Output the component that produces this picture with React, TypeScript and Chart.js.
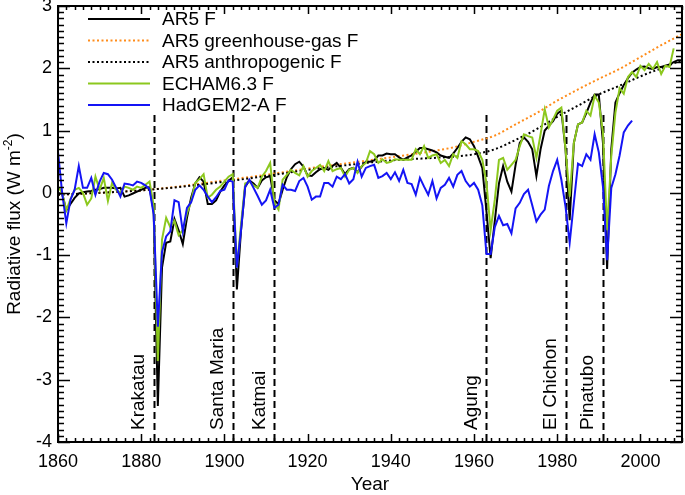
import React, { useEffect, useRef } from 'react';
import { Chart, registerables } from 'chart.js';
Chart.register(...registerables);

const START_YEAR = 1860;

// AR5 F, annual 1860-2010
const ar5F = [
  0.0, -0.02, -0.28, -0.18, -0.08, -0.01, 0.01, 0.02, 0.03, 0.05,
  0.06, 0.08, 0.08, 0.08, 0.07, 0.08, -0.06, -0.04, -0.01, 0.02,
  0.05, 0.08, 0.09, -0.3, -3.42, -1.2, -0.8, -0.78, -0.42, -0.6,
  -0.82, -0.4, -0.08, 0.15, 0.25, 0.18, -0.18, -0.18, -0.12, 0.02,
  0.12, 0.19, 0.25, -1.55, -0.6, 0.1, 0.2, 0.15, 0.08, 0.2,
  0.25, 0.27, -0.12, -0.18, 0.05, 0.25, 0.38, 0.46, 0.5, 0.42,
  0.28, 0.27, 0.33, 0.38, 0.4, 0.37, 0.43, 0.48, 0.4, 0.3,
  0.38, 0.4, 0.33, 0.42, 0.5, 0.5, 0.52, 0.6, 0.6, 0.63,
  0.62, 0.62, 0.57, 0.53, 0.57, 0.6, 0.66, 0.72, 0.72, 0.7,
  0.68, 0.65, 0.6, 0.58, 0.56, 0.63, 0.72, 0.82, 0.89, 0.86,
  0.75, 0.58, 0.4, -0.3, -1.05, -0.45, 0.15, 0.43, 0.18, 0.02,
  0.45, 0.8, 0.89, 0.82, 0.7, 0.27, 0.7, 1.0, 1.08, 1.15,
  1.27, 1.32, 0.7, -0.44, 0.8, 1.1, 1.13, 1.28, 1.45, 1.58,
  1.58, 0.8, -1.22, 0.7, 1.45, 1.6, 1.73, 1.84, 1.93, 1.98,
  2.02, 2.03, 2.0, 1.99, 2.02, 2.02, 2.04, 2.06, 2.1, 2.13, 2.13,
];

// ECHAM6.3 F, annual 1860-2008
const echamF = [
  0.1, 0.0, -0.28, -0.1, 0.05, 0.08, 0.0, -0.19, -0.09, 0.26,
  0.05, 0.24, -0.13, 0.16, 0.05, 0.0, 0.1, 0.08, 0.05, 0.1,
  0.08, 0.13, 0.18, -0.2, -2.7, -0.75, -0.4, -0.55, -0.45, -0.68,
  -0.6, -0.33, -0.14, 0.16, 0.22, 0.3, -0.08, -0.03, 0.05, 0.1,
  0.18, 0.26, 0.3, -1.2, -0.5, 0.15, 0.18, 0.12, 0.08, 0.26,
  0.35, 0.48, -0.16, -0.27, 0.21, 0.29, 0.37, 0.32, 0.28, 0.43,
  0.26, 0.35, 0.4, 0.45, 0.35, 0.51, 0.35, 0.38, 0.4, 0.26,
  0.37, 0.4, 0.32, 0.43, 0.48, 0.67, 0.62, 0.48, 0.54, 0.48,
  0.5, 0.54, 0.53, 0.53, 0.53, 0.53, 0.7, 0.62, 0.75, 0.56,
  0.6, 0.62, 0.48, 0.53, 0.43, 0.62, 0.56, 0.83, 0.78, 0.7,
  0.7, 0.67, 0.53, 0.16, -0.6, -0.11, 0.53, 0.56, 0.37, 0.45,
  0.53, 0.75, 0.94, 0.91, 0.89, 0.56, 0.94, 1.34, 1.05, 1.18,
  1.32, 1.37, 0.7, -0.06, 0.8, 1.1, 1.13, 1.32, 1.24, 1.56,
  1.45, 0.97, -0.6, 0.59, 1.29, 1.68, 1.59, 1.86, 1.94, 1.86,
  2.04, 1.97, 2.07, 1.99, 2.1, 1.91, 2.04, 2.02, 2.32,
];

// HadGEM2-A F, annual 1860-1998
const hadgemF = [
  0.66, 0.0, -0.49, -0.11, 0.05, 0.43, 0.08, 0.08, 0.24, -0.03,
  0.18, 0.32, 0.3, 0.21, 0.08, -0.06, 0.15, 0.14, 0.12, 0.18,
  0.16, 0.12, 0.06, -0.35, -2.15, -0.95, -0.7, -0.62, -0.12, -0.15,
  -0.62, -0.24, -0.15, 0.05, 0.12, 0.05, -0.06, -0.15, -0.07, 0.03,
  0.05, 0.2, 0.18, -1.2, -0.6, 0.1, 0.21, 0.08, -0.05, -0.19,
  -0.12, 0.05, -0.24, -0.19, 0.13, 0.05, 0.05, 0.03, 0.19, 0.24,
  0.1, -0.11, -0.06, -0.06, 0.16, 0.16, 0.1, 0.26, 0.22, 0.3,
  0.15, 0.22, 0.5, 0.26, 0.4, 0.43, 0.45, 0.24, 0.27, 0.32,
  0.22, 0.33, 0.19, 0.37, 0.16, 0.14, -0.03, 0.24, 0.1, -0.03,
  0.19, -0.09, 0.08, 0.13, 0.24, 0.1, 0.29, 0.35, 0.19, 0.1,
  0.16, 0.05, -0.2, -0.98, -0.98, -0.55, -0.37, -0.52, -0.5, -0.65,
  -0.25, -0.16, -0.02, 0.05, -0.2, -0.46, -0.35, -0.27, 0.11, 0.35,
  0.53, 0.21, -0.22, -0.8, -0.16, 0.47, 0.43, 0.62, 0.53, 0.94,
  0.65, 0.1, -1.08, 0.08, 0.3, 0.6, 0.97, 1.08, 1.16,
];

// AR5 greenhouse-gas F (smooth curve)
const ghgYears = [1860, 1870, 1880, 1890, 1900, 1910, 1920, 1930, 1940, 1950, 1955, 1960, 1965, 1970, 1975, 1980, 1985, 1990, 1995, 2000, 2005, 2010];
const ghgF = [-0.03, 0.0, 0.04, 0.11, 0.2, 0.29, 0.39, 0.48, 0.57, 0.67, 0.73, 0.82, 0.92, 1.1, 1.28, 1.48, 1.66, 1.83, 1.99, 2.18, 2.37, 2.55];

// AR5 anthropogenic F (smooth curve)
const anthYears = [1860, 1870, 1880, 1890, 1900, 1910, 1920, 1930, 1940, 1950, 1955, 1960, 1965, 1970, 1975, 1980, 1985, 1990, 1995, 2000, 2005, 2010];
const anthF = [-0.03, 0.0, 0.04, 0.1, 0.18, 0.27, 0.37, 0.45, 0.52, 0.56, 0.58, 0.62, 0.7, 0.85, 1.02, 1.22, 1.4, 1.58, 1.72, 1.87, 2.0, 2.13];

const volcanoNames = ['Krakatau', 'Santa Maria', 'Katmai', 'Agung', 'El Chichon', 'Pinatubo'];
const volcanoYears = [1883, 1902, 1912, 1963, 1982, 1991];

const xTickValues = [1860, 1880, 1900, 1920, 1940, 1960, 1980, 2000];
const yTickValues = [-4, -3, -2, -1, 0, 1, 2, 3];

const FONT = "'Liberation Sans', Arial, sans-serif";
const BLACK = '#000000';
const ORANGE = '#ff8c1a';
const GREEN = '#8cc81e';
const BLUE = '#1414f5';

const toPoints = (vals: number[], start: number) => vals.map((y, i) => ({ x: start + i, y }));
const toXY = (xs: number[], ys: number[]) => xs.map((x, i) => ({ x, y: ys[i] }));

const decorPlugin = {
  id: 'decor',
  beforeDatasetsDraw(chart: any) {
    const { ctx, chartArea: a, scales } = chart;
    const xs = scales.x, ys = scales.y;
    ctx.save();
    ctx.strokeStyle = '#000';
    ctx.fillStyle = '#000';
    ctx.lineWidth = 2;
    ctx.setLineDash([7, 4]);
    const topY = ys.getPixelForValue(1.25);
    volcanoYears.forEach((yr) => {
      const px = Math.round(xs.getPixelForValue(yr)) + 0.5;
      ctx.beginPath();
      ctx.moveTo(px, topY);
      ctx.lineTo(px, a.bottom);
      ctx.stroke();
    });
    ctx.setLineDash([]);
    ctx.font = `19px ${FONT}`;
    ctx.textAlign = 'left';
    ctx.textBaseline = 'alphabetic';
    volcanoYears.forEach((yr, i) => {
      const px = xs.getPixelForValue(yr);
      ctx.save();
      ctx.translate(px - 9.5, 430);
      ctx.rotate(-Math.PI / 2);
      ctx.fillText(volcanoNames[i], 0, 0);
      ctx.restore();
    });
    ctx.restore();
  },
  afterDatasetsDraw(chart: any) {
    const { ctx, chartArea: a, scales } = chart;
    const xs = scales.x, ys = scales.y;
    ctx.save();
    ctx.strokeStyle = '#000';
    ctx.lineWidth = 2;
    ctx.strokeRect(a.left, a.top, a.right - a.left, a.bottom - a.top);
    ctx.lineWidth = 1.5;
    ctx.beginPath();
    for (let v = xs.min; v <= xs.max; v += 2) {
      const major = (v - xs.min) % 20 === 0;
      const len = major ? 8 : 4;
      const px = Math.round(xs.getPixelForValue(v)) + 0.5;
      ctx.moveTo(px, a.bottom);
      ctx.lineTo(px, a.bottom - len);
      ctx.moveTo(px, a.top);
      ctx.lineTo(px, a.top + len);
    }
    for (let i = Math.round(ys.min * 10); i <= Math.round(ys.max * 10); i++) {
      const major = i % 10 === 0;
      const len = major ? 12 : 6;
      const py = Math.round(ys.getPixelForValue(i / 10)) + 0.5;
      ctx.moveTo(a.left, py);
      ctx.lineTo(a.left + len, py);
      ctx.moveTo(a.right, py);
      ctx.lineTo(a.right - len, py);
    }
    ctx.stroke();

    // legend
    const rows = [19, 40.5, 62, 83.5, 105];
    ctx.font = `19px ${FONT}`;
    ctx.textBaseline = 'middle';
    ctx.textAlign = 'left';
    ctx.fillStyle = '#000';
    chart.data.datasets.forEach((ds: any, i: number) => {
      const y = rows[i];
      ctx.save();
      ctx.strokeStyle = ds.borderColor;
      ctx.lineWidth = 2;
      ctx.setLineDash(ds.borderDash || []);
      ctx.beginPath();
      ctx.moveTo(88, y);
      ctx.lineTo(150, y);
      ctx.stroke();
      ctx.restore();
      ctx.fillText(ds.label, 162, y + 1);
    });

    // axis titles
    ctx.font = `19px ${FONT}`;
    ctx.textAlign = 'center';
    ctx.textBaseline = 'middle';
    ctx.fillText('Year', (a.left + a.right) / 2, 485);

    ctx.save();
    const cy = (a.top + a.bottom) / 2;
    ctx.translate(20, cy);
    ctx.rotate(-Math.PI / 2);
    ctx.textAlign = 'left';
    ctx.textBaseline = 'alphabetic';
    const p1 = 'Radiative flux (W m';
    const sup = '-2';
    const p3 = ')';
    ctx.font = `19px ${FONT}`;
    const w1 = ctx.measureText(p1).width;
    const w3 = ctx.measureText(p3).width;
    ctx.font = `12px ${FONT}`;
    const ws = ctx.measureText(sup).width;
    const start = -(w1 + ws + w3) / 2;
    ctx.font = `19px ${FONT}`;
    ctx.fillText(p1, start, 0);
    ctx.font = `12px ${FONT}`;
    ctx.fillText(sup, start + w1, -8);
    ctx.font = `19px ${FONT}`;
    ctx.fillText(p3, start + w1 + ws, 0);
    ctx.restore();

    ctx.restore();
  },
};

export default function App() {
  const ref = useRef<HTMLCanvasElement | null>(null);
  useEffect(() => {
    if (!ref.current) return;
    const chart = new Chart(ref.current, {
      type: 'line',
      data: {
        datasets: [
          { label: 'AR5 F', data: toPoints(ar5F, START_YEAR), borderColor: BLACK, borderWidth: 2, pointRadius: 0, order: 2, tension: 0 },
          { label: 'AR5 greenhouse-gas F', data: toXY(ghgYears, ghgF), borderColor: ORANGE, borderWidth: 2, borderDash: [2, 2.5], pointRadius: 0, order: 4, cubicInterpolationMode: 'monotone' },
          { label: 'AR5 anthropogenic F', data: toXY(anthYears, anthF), borderColor: BLACK, borderWidth: 2, borderDash: [2, 2.5], pointRadius: 0, order: 3, cubicInterpolationMode: 'monotone' },
          { label: 'ECHAM6.3 F', data: toPoints(echamF, START_YEAR), borderColor: GREEN, borderWidth: 2, pointRadius: 0, order: 1, tension: 0 },
          { label: 'HadGEM2-A F', data: toPoints(hadgemF, START_YEAR), borderColor: BLUE, borderWidth: 2, pointRadius: 0, order: 0, tension: 0 },
        ] as any,
      },
      options: {
        animation: false,
        responsive: false,
        devicePixelRatio: 1,
        layout: { padding: { top: 6, right: 3, left: 0, bottom: 0 } },
        plugins: { legend: { display: false }, tooltip: { enabled: false } },
        scales: {
          x: {
            type: 'linear',
            min: 1860,
            max: 2010,
            grid: { display: false, drawTicks: false },
            border: { display: false },
            afterBuildTicks: (s: any) => { s.ticks = xTickValues.map((v) => ({ value: v })); },
            afterFit: (s: any) => { s.height = 53; s.paddingLeft = 0; s.paddingRight = 0; },
            ticks: { padding: 9, color: '#000', font: { family: FONT, size: 18 }, maxRotation: 0, autoSkip: false, callback: (v: any) => String(v) },
          },
          y: {
            type: 'linear',
            min: -4,
            max: 3,
            grid: { display: false, drawTicks: false },
            border: { display: false },
            afterBuildTicks: (s: any) => { s.ticks = yTickValues.map((v) => ({ value: v })); },
            afterFit: (s: any) => { s.width = 58; s.paddingTop = 0; s.paddingBottom = 0; },
            ticks: { padding: 6, color: '#000', font: { family: FONT, size: 18 }, autoSkip: false, callback: (v: any) => String(v) },
          },
        },
      } as any,
      plugins: [decorPlugin],
    });
    return () => chart.destroy();
  }, []);
  return (
    <div style={{ position: 'absolute', left: 0, top: 0, width: 685, height: 495, background: '#fff' }}>
      <canvas ref={ref} width={685} height={495} style={{ width: 685, height: 495 }} />
    </div>
  );
}
